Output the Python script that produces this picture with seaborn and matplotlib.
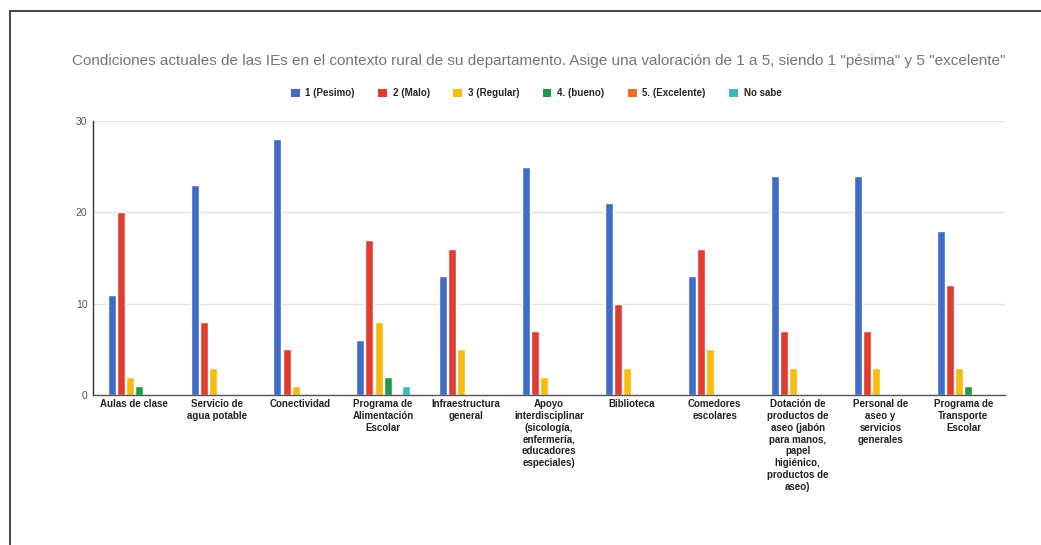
import pandas as pd
import matplotlib.pyplot as plt
import seaborn as sns
from matplotlib.patches import Patch
from matplotlib.lines import Line2D

"""
Datos leidos del grafico original.
"""
categorias = [
    "Aulas de clase",
    "Servicio de\nagua potable",
    "Conectividad",
    "Programa de\nAlimentación\nEscolar",
    "Infraestructura\ngeneral",
    "Apoyo\ninterdisciplinar\n(sicología,\nenfermería,\neducadores\nespeciales)",
    "Biblioteca",
    "Comedores\nescolares",
    "Dotación de\nproductos de\naseo (jabón\npara manos,\npapel\nhigiénico,\nproductos de\naseo)",
    "Personal de\naseo y\nservicios\ngenerales",
    "Programa de\nTransporte\nEscolar",
]
series = ["1 (Pesimo)", "2 (Malo)", "3 (Regular)", "4. (bueno)", "5. (Excelente)", "No sabe"]

pesimo = [11, 23, 28, 6, 13, 25, 21, 13, 24, 24, 18]
malo = [20, 8, 5, 17, 16, 7, 10, 16, 7, 7, 12]
regular = [2, 3, 1, 8, 5, 2, 3, 5, 3, 3, 3]
bueno = [1, 0, 0, 2, 0, 0, 0, 0, 0, 0, 1]
excelente = [0, 0, 0, 0, 0, 0, 0, 0, 0, 0, 0]
no_sabe = [0, 0, 0, 1, 0, 0, 0, 0, 0, 0, 0]

colores = ["#3f6cc8", "#e23b30", "#f7bb12", "#1f9a4a", "#f26c1f", "#3fb8c4"]

"""
Tabla larga para seaborn.
"""
valores = [pesimo, malo, regular, bueno, excelente, no_sabe]
rows = []
for s, vals in zip(series, valores):
    for c, v in zip(categorias, vals):
        rows.append({"categoria": c, "serie": s, "valor": v})
df = pd.DataFrame(rows)

sns.set_style("white")
plt.rcParams["font.family"] = ["Liberation Sans", "DejaVu Sans"]

fig = plt.figure(figsize=(10.41, 5.45), dpi=100)
ax = fig.add_axes([0.0893, 0.275, 0.876, 0.503])

sns.barplot(
    data=df, x="categoria", y="valor", hue="serie",
    hue_order=series, order=categorias, palette=colores,
    width=0.66, gap=0.12, ax=ax, legend=False, saturation=1,
)

ax.set_ylim(0, 30)
ax.set_yticks([0, 10, 20, 30])
ax.yaxis.grid(True, color="#e4e4e4", linewidth=1)
ax.set_axisbelow(True)
ax.set_xlabel("")
ax.set_ylabel("")
ax.tick_params(axis="y", labelsize=7.5, colors="#555555", length=0, pad=4)
ax.tick_params(axis="x", length=0, pad=3)
for lbl in ax.get_xticklabels():
    lbl.set_fontsize(7)
    lbl.set_fontweight("bold")
    lbl.set_color("#222222")
    lbl.set_linespacing(1.22)

for side in ["top", "right"]:
    ax.spines[side].set_visible(False)
ax.spines["left"].set_color("#333333")
ax.spines["bottom"].set_color("#555555")
ax.spines["left"].set_linewidth(1)
ax.spines["bottom"].set_linewidth(1)

fig.text(
    0.518, 0.888,
    'Condiciones actuales de las IEs en el contexto rural de su departamento. '
    'Asige una valoración de 1 a 5, siendo 1 "pésima" y 5 "excelente"',
    ha="center", va="center", fontsize=11, color="#757575",
)

handles = [Patch(facecolor=c, edgecolor="none") for c in colores]
fig.legend(
    handles, series, loc="center", bbox_to_anchor=(0.515, 0.829), ncol=6,
    frameon=False, handlelength=0.9, handleheight=0.9,
    handletextpad=0.6, columnspacing=2.4,
    prop={"weight": "bold", "size": 7},
)

# marco exterior (izquierda y arriba)
fig.add_artist(Line2D([10 / 1041, 10 / 1041], [0, 1 - 11 / 545],
                      transform=fig.transFigure, color="#444444", linewidth=1.4))
fig.add_artist(Line2D([10 / 1041, 1], [1 - 11 / 545, 1 - 11 / 545],
                      transform=fig.transFigure, color="#444444", linewidth=1.4))

fig.savefig("out.png", dpi=100)
